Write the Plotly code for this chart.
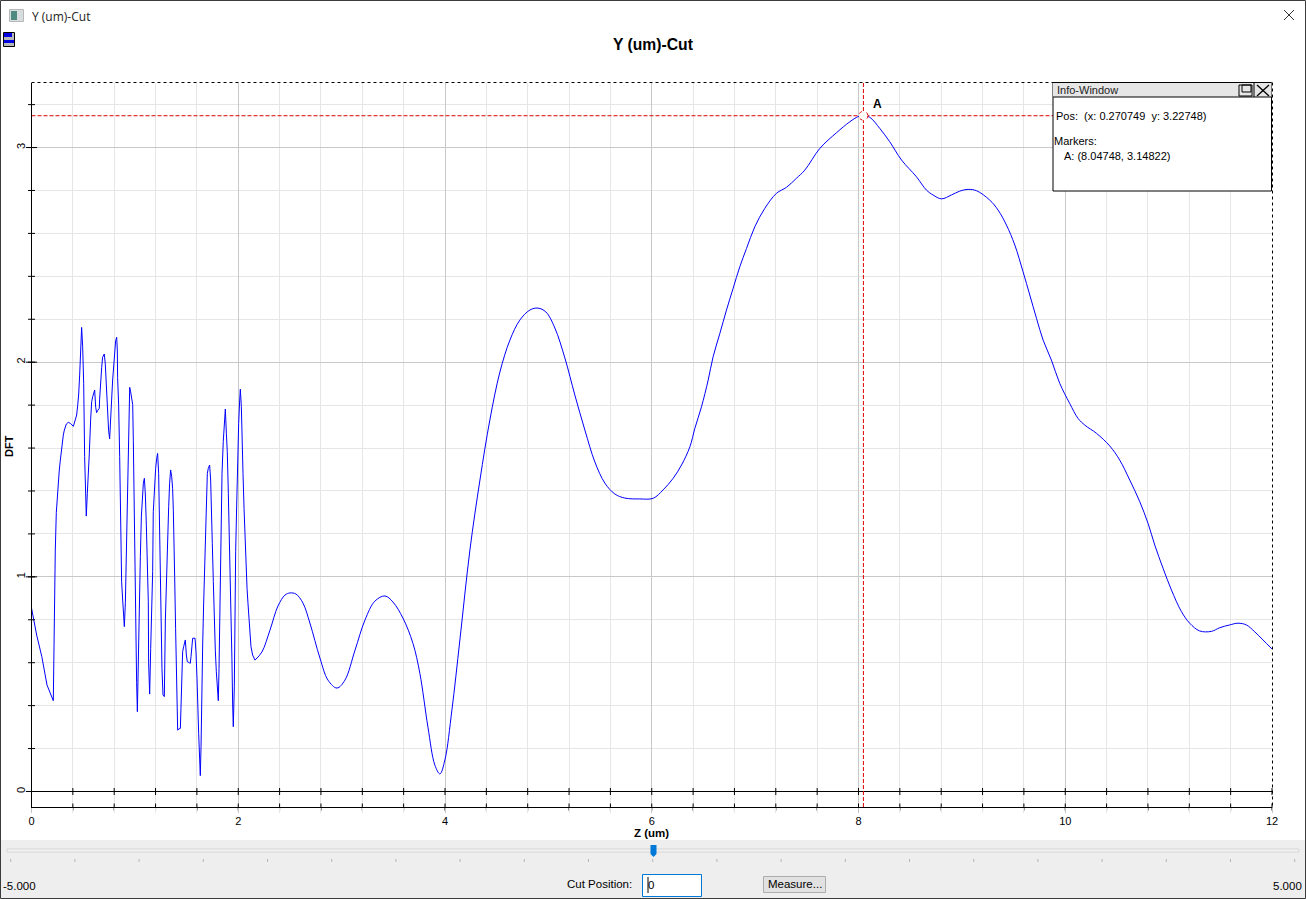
import plotly.graph_objects as go

W, H = 1306, 899

# Fine (un-smoothed) part of the cut
z_fine = [0.0,0.02,0.05,0.10,0.15,0.211,0.221,0.23,0.24,0.25,0.26,0.269,0.279,0.289,0.298,0.308,0.318,0.327,0.337,0.356,0.379,0.405,0.414,0.427,0.437,0.447,0.456,0.466,0.476,0.485,0.495,0.505,0.514,0.524,0.53,0.54,0.55,0.559,0.572,0.582,0.592,0.601,0.611,0.621,0.63,0.64,0.656,0.659,0.669,0.679,0.688,0.704,0.714,0.724,0.733,0.737,0.746,0.756,0.766,0.775,0.785,0.795,0.804,0.814,0.824,0.83,0.833,0.843,0.853,0.862,0.872,0.882,0.891,0.898,0.908,0.917,0.92,0.93,0.94,0.95,0.959,0.969,0.979,0.985,0.992,0.998,1.008,1.017,1.024,1.034,1.043,1.053,1.063,1.072,1.082,1.092,1.101,1.111,1.121,1.13,1.133,1.143,1.153,1.162,1.172,1.178,1.191,1.201,1.211,1.22,1.23,1.236,1.246,1.256,1.262,1.272,1.285,1.295,1.307,1.317,1.327,1.336,1.346,1.356,1.365,1.372,1.375,1.385,1.394,1.404,1.414,1.427,1.44,1.446,1.452,1.462,1.472,1.482,1.488,1.498,1.507,1.527,1.536,1.543,1.549,1.559,1.582,1.591,1.601,1.607,1.617,1.627,1.633,1.64,1.646,1.656,1.665,1.675,1.681,1.691,1.701,1.71,1.723,1.733,1.743,1.749,1.759,1.768,1.778,1.788,1.797,1.807,1.814,1.823,1.833,1.843,1.855,1.865,1.875,1.885,1.894,1.904,1.914,1.92,1.93,1.939,1.946,1.952,1.962,1.968,1.975,1.985,1.994,2.004,2.014,2.02,2.03,2.036,2.046,2.056,2.065,2.075,2.085,2.094,2.104,2.114,2.123,2.139,2.162]
dft_fine = [0.855,0.799,0.729,0.628,0.496,0.423,0.842,1.12,1.30,1.386,1.451,1.498,1.544,1.588,1.633,1.661,1.684,1.703,1.712,1.72,1.714,1.701,1.715,1.727,1.754,1.80,1.847,1.94,2.088,2.162,2.072,1.90,1.56,1.378,1.283,1.389,1.459,1.572,1.731,1.816,1.839,1.852,1.87,1.79,1.765,1.775,1.785,1.828,1.92,1.976,2.023,2.038,1.991,1.90,1.824,1.749,1.681,1.643,1.715,1.824,1.917,1.995,2.06,2.10,2.116,2.057,1.928,1.80,1.56,1.203,0.977,0.892,0.81,0.768,0.879,1.10,1.319,1.544,1.769,1.883,1.862,1.831,1.803,1.637,1.33,1.047,0.776,0.507,0.372,0.698,0.90,1.094,1.283,1.392,1.436,1.459,1.386,1.241,1.10,0.884,0.60,0.454,0.667,0.807,1.024,1.303,1.459,1.505,1.552,1.575,1.482,1.288,1.07,0.822,0.574,0.45,0.442,0.799,1.032,1.21,1.327,1.436,1.498,1.467,1.412,1.311,1.156,1.001,0.76,0.445,0.286,0.292,0.294,0.388,0.558,0.651,0.675,0.69,0.706,0.636,0.605,0.60,0.597,0.628,0.682,0.714,0.714,0.651,0.527,0.403,0.271,0.147,0.074,0.209,0.465,0.687,0.869,1.047,1.218,1.389,1.482,1.505,1.521,1.451,1.311,1.156,0.977,0.799,0.659,0.558,0.473,0.423,0.574,0.877,1.117,1.482,1.63,1.731,1.782,1.669,1.583,1.389,1.203,1.07,0.814,0.613,0.403,0.302,0.488,0.838,1.117,1.335,1.552,1.715,1.824,1.874,1.793,1.637,1.482,1.319,1.172,1.032,0.947,0.877,0.799,0.729,0.675,0.636,0.612]

# Smooth part of the cut
z_smooth = [2.162,2.229,2.307,2.384,2.452,2.5,2.558,2.626,2.693,2.79,2.868,2.955,3.032,3.13,3.226,3.322,3.419,3.496,3.593,3.69,3.757,3.835,3.902,3.951,3.999,4.067,4.144,4.241,4.338,4.434,4.531,4.628,4.724,4.821,4.899,4.976,5.063,5.16,5.256,5.353,5.45,5.546,5.643,5.74,5.885,6.014,6.11,6.207,6.288,6.369,6.417,6.481,6.546,6.594,6.659,6.723,6.787,6.852,6.917,6.997,7.094,7.207,7.304,7.4,7.481,7.626,7.787,7.916,7.996,8.047,8.109,8.206,8.302,8.416,8.56,8.657,8.721,8.803,8.899,8.98,9.06,9.141,9.27,9.35,9.431,9.512,9.592,9.657,9.722,9.786,9.866,9.947,10.043,10.124,10.189,10.301,10.43,10.527,10.624,10.721,10.801,10.866,10.946,11.027,11.124,11.204,11.3,11.414,11.494,11.591,11.671,11.752,11.833,11.913,12.0]
dft_smooth = [0.612,0.65,0.752,0.864,0.915,0.925,0.92,0.878,0.785,0.622,0.519,0.482,0.519,0.659,0.799,0.887,0.911,0.883,0.808,0.69,0.55,0.30,0.123,0.082,0.147,0.38,0.706,1.125,1.451,1.731,1.954,2.103,2.196,2.243,2.252,2.234,2.159,2.019,1.847,1.684,1.535,1.437,1.386,1.367,1.363,1.366,1.405,1.459,1.521,1.606,1.692,1.792,1.917,2.026,2.134,2.243,2.344,2.445,2.53,2.631,2.717,2.787,2.815,2.857,2.895,2.996,3.069,3.12,3.144,3.148,3.141,3.089,3.027,2.942,2.864,2.802,2.779,2.761,2.779,2.797,2.805,2.799,2.755,2.709,2.639,2.546,2.421,2.313,2.204,2.103,2.01,1.901,1.808,1.738,1.707,1.669,1.61,1.544,1.451,1.35,1.249,1.148,1.04,0.939,0.838,0.784,0.748,0.746,0.763,0.776,0.784,0.776,0.744,0.706,0.664]

marker_z = [8.04748]
marker_dft = [3.14822]
x_ticks = [0, 2, 4, 6, 8, 10, 12]
y_ticks = [0, 1, 2, 3]
x_minor = [i * 0.4 for i in range(31)]
y_minor = [i * 0.2 for i in range(17)]
x_range = [0, 12]
y_range = [-0.0722, 3.303]


def X(p):
    return p / W


def Y(p):
    return 1 - p / H


shapes, annos = [], []


def rect(x0, y0, x1, y1, fill="rgba(0,0,0,0)", line=None, lw=1, dash=None):
    shapes.append(dict(type="rect", xref="paper", yref="paper", layer="above",
                       x0=X(x0), x1=X(x1), y0=Y(y0), y1=Y(y1), fillcolor=fill,
                       line=dict(color=line or "rgba(0,0,0,0)", width=lw if line else 0, dash=dash or "solid")))


def seg(x0, y0, x1, y1, color="#000", lw=1, dash="solid"):
    shapes.append(dict(type="line", xref="paper", yref="paper", layer="above",
                       x0=X(x0), x1=X(x1), y0=Y(y0), y1=Y(y1),
                       line=dict(color=color, width=lw, dash=dash)))


def text(x, y, s, size=11, color="#000", anchor="left", bold=False, angle=0, family="Liberation Sans"):
    dx = {"left": -2, "right": 2, "center": 0}[anchor]
    annos.append(dict(xref="paper", yref="paper", x=X(x + dx), y=Y(y), xanchor=anchor, yanchor="middle",
                      text=f"<b>{s}</b>" if bold else s, showarrow=False, textangle=angle,
                      font=dict(size=size, color=color, family=family)))


# plot frame
seg(31.5, 82.5, 1272.5, 82.5, dash="dot")
seg(1272.5, 82.5, 1272.5, 807, dash="dot")
seg(31.5, 807.5, 1272.5, 807.5, dash="dot")

# marker ring
shapes.append(dict(type="circle", xref="x", yref="y", layer="above", xsizemode="pixel", ysizemode="pixel",
                   xanchor=marker_z[0], yanchor=marker_dft[0], x0=-4.5, x1=4.5, y0=-4.5, y1=4.5,
                   fillcolor="#fff", line=dict(color="#e00000", width=1, dash="3px,5px")))

# info window
rect(1053, 82.5, 1271.5, 191, fill="#fff", line="#000")
rect(1053, 83, 1271.5, 97, fill="#e6e6e6")
seg(1053, 97, 1271.5, 97)
rect(1239, 85, 1252, 96, line="#000")
rect(1242, 85, 1251, 92, line="#000")
seg(1257, 85, 1269, 96, lw=1.3)
seg(1269, 85, 1257, 96, lw=1.3)
seg(1254, 83, 1254, 97)
text(1057, 90, "Info-Window", 11, "#222")
text(1056, 116, "Pos:&nbsp;&nbsp;(x: 0.270749&nbsp;&nbsp;y: 3.22748)", 11)
text(1054, 141, "Markers:", 11)
text(1064, 156, f"A: ({marker_z[0]}, {marker_dft[0]})", 11)

# bottom panel
rect(0, 840, W, H, fill="#eeeeee")
rect(7, 849, 1299, 852, fill="#f2f2f2", line="#d6d6d6")
for i in range(21):
    px = 10.7 + 64.2 * i
    seg(px, 859, px, 862, "#b5b5b5")
shapes.append(dict(type="path", xref="paper", yref="paper", layer="above", fillcolor="#0078d7",
                   line=dict(color="#0078d7", width=0),
                   path=f"M {X(650.5)} {Y(845)} L {X(656.5)} {Y(845)} L {X(656.5)} {Y(854)} "
                        f"L {X(653.5)} {Y(857)} L {X(650.5)} {Y(854)} Z"))
text(3, 886, "-5.000", 11.5)
text(1302, 886, "5.000", 11.5, anchor="right")
text(567, 884, "Cut Position:", 11.5)
rect(642.5, 874.5, 701.5, 896.5, fill="#fff", line="#0078d7")
text(648, 885, "0", 11.5)
seg(648, 877, 648, 893, "#000")
rect(763.5, 876.5, 825.5, 892.5, fill="#e1e1e1", line="#adadad")
text(794.5, 884, "Measure...", 11.5, anchor="center")

# window chrome
rect(0.5, 0.5, 1305.5, 898.5, line="#3c3c3c", lw=1)
rect(9.5, 9.5, 23.5, 21.5, fill="#d8dde0", line="#b8b8b8")
rect(11, 11, 17, 20, fill="#4f8a80")
text(32, 16, "Y (um)-Cut", 12, "#222", family="Open Sans")
seg(1284, 10, 1294, 20, "#333")
seg(1294, 10, 1284, 20, "#333")
rect(3.5, 32.5, 14.5, 46.5, fill="#b8b8b8", line="#000")
rect(4, 33, 12, 37, fill="#0000e0")
rect(4, 40, 14, 43, fill="#0000e0")

# titles
text(653, 45, "Y (um)-Cut", 15.7, anchor="center", bold=True)
text(651, 833, "Z (um)", 11.5, anchor="center", bold=True)
text(9, 446, "DFT", 11, anchor="center", bold=True, angle=-90)
annos.append(dict(x=marker_z[0], y=marker_dft[0], xref="x", yref="y", text="<b>A</b>", showarrow=False,
                  xshift=14, yshift=12, font=dict(size=12, color="#000", family="Liberation Sans")))

fig = go.Figure()
fig.add_trace(go.Scatter(x=z_fine, y=dft_fine, mode="lines", line=dict(color="#0000ff", width=1)))
fig.add_trace(go.Scatter(x=z_smooth, y=dft_smooth, mode="lines",
                         line=dict(color="#0000ff", width=1, shape="spline", smoothing=1)))
# marker cross hair
fig.add_trace(go.Scatter(x=x_range, y=marker_dft * 2, mode="lines",
                         line=dict(color="#e00000", width=1, dash="4px,2px")))
fig.add_trace(go.Scatter(x=marker_z * 2, y=y_range, mode="lines",
                         line=dict(color="#e00000", width=1, dash="4px,2px")))
# cross ticks on the zero line, the lower border and the value axis
tick_style = dict(mode="markers", cliponaxis=False, hoverinfo="skip")
for yy in (0, y_range[0]):
    fig.add_trace(go.Scatter(x=x_minor, y=[yy] * len(x_minor), marker=dict(symbol="line-ns", size=5, line=dict(color="#000", width=1)), **tick_style))
fig.add_trace(go.Scatter(x=[0] * len(y_minor), y=y_minor, marker=dict(symbol="line-ew", size=5, line=dict(color="#000", width=1)), **tick_style))
fig.add_trace(go.Scatter(x=[0] * len(y_ticks), y=y_ticks, marker=dict(symbol="line-ew", size=8, line=dict(color="#000", width=1)), **tick_style))

fig.update_layout(
    width=W, height=H, autosize=False, margin=dict(l=0, r=0, t=0, b=0),
    paper_bgcolor="#fff", plot_bgcolor="#fff", showlegend=False,
    shapes=shapes, annotations=annos,
    font=dict(family="Liberation Sans", size=11, color="#000"),
    xaxis=dict(domain=[X(31.5), X(1272)], range=x_range, tickvals=x_ticks, ticks="outside", ticklen=5,
               automargin=False,
               tickcolor="#c4c4c4", showgrid=True, gridcolor="#c8c8c8", gridwidth=1, zeroline=False,
               showline=True, linecolor="#000", linewidth=1,
               minor=dict(tickvals=x_minor, showgrid=True, gridcolor="#e6e6e6", gridwidth=1,
                          ticks="outside", ticklen=5, tickcolor="#e6e6e6"),
               tickfont=dict(size=11), ticklabelstandoff=-1),
    yaxis=dict(domain=[Y(807), Y(82.5)], range=y_range, tickvals=y_ticks, ticks="", tickangle=-90,
               automargin=False,
               showgrid=True, gridcolor="#c8c8c8", gridwidth=1, zeroline=True, zerolinecolor="#000",
               zerolinewidth=1, showline=True, linecolor="#000", linewidth=1,
               minor=dict(tickvals=y_minor, showgrid=True, gridcolor="#e6e6e6", gridwidth=1),
               tickfont=dict(size=11), ticklabelstandoff=1),
)

fig.write_html("out.html", post_script="document.body.style.margin='0';", config=dict(displayModeBar=False))
